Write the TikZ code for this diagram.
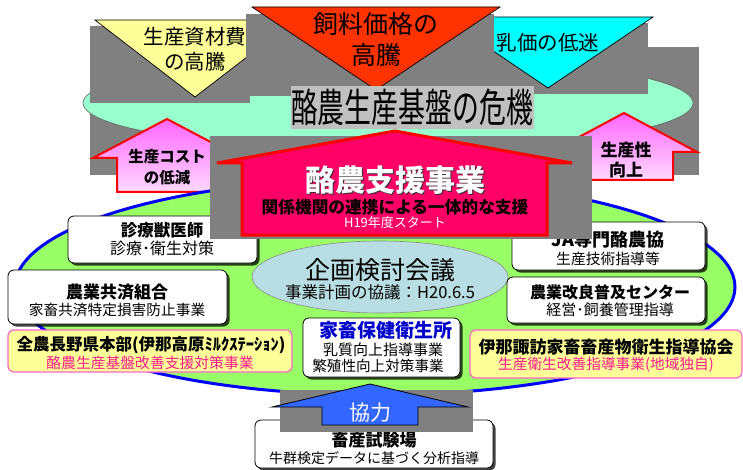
\documentclass[tikz,border=0pt]{standalone}
\usepackage{fontspec}
\setmainfont{Noto Sans CJK JP}
\usetikzlibrary{shapes.geometric,shadows}
\definecolor{mint}{HTML}{99FFCC}
\definecolor{grn}{HTML}{99FF66}
\definecolor{gbox}{HTML}{808080}
\definecolor{lgray}{HTML}{C0C0C0}
\definecolor{yel}{HTML}{FFFF99}
\definecolor{ored}{HTML}{FF3300}
\definecolor{cyn}{HTML}{00FFFF}
\definecolor{pnkA}{HTML}{FF66FF}
\definecolor{pnkB}{HTML}{FFD9FF}
\definecolor{rose}{HTML}{FF0066}
\definecolor{lblue}{HTML}{B8DDE3}
\definecolor{pinktxt}{HTML}{FF1A8C}
\definecolor{bluetxt}{HTML}{0000CC}
\definecolor{arrblue}{HTML}{3366FF}
\definecolor{ybord}{HTML}{FF66CC}
\newcommand\jfs[1]{\fontsize{#1}{#1}\selectfont}
\tikzset{
  gbx/.style={fill=gbox,draw=none},
  tri/.style={draw=black,line width=0.7pt,line join=miter},
  pinkarrow/.style={draw=red,line width=2pt,top color=pnkA,bottom color=pnkB,line join=miter},
  wbox/.style={rectangle,draw=black,line width=0.8pt,fill=white,rounded corners=6pt,
    drop shadow={shadow xshift=2.5pt,shadow yshift=-2.5pt,fill=black,opacity=0.75}},
  ybox/.style={rectangle,draw=ybord,line width=1.2pt,fill=yel,rounded corners=6pt},
  t/.style={inner sep=0pt,anchor=center},
}
\begin{document}
\begin{tikzpicture}[x=1pt,y=-1pt]
\useasboundingbox (0,0) rectangle (743,470);
% gray boxes behind the upper ellipse
\fill[gbx] (90,100) rectangle (215,175);
\fill[gbx] (560,47) rectangle (699,175);
% upper ellipse
\node[ellipse,draw=black!60,line width=0.6pt,fill=mint,minimum width=610pt,minimum height=94pt] (crisisE) at (388,103) {};
% cyan triangle
\fill[gbx] (438,23) rectangle (648,94);
\draw[tri,fill=cyn] (443,17) -- (653,17) -- (548,88) -- cycle;
\node[t] (milk) at (548,43) {\jfs{20.5}乳価の低迷};
% yellow triangle
\fill[gbx] (90,26) rectangle (250,103);
\draw[tri,fill=yel] (95,20) -- (295,20) -- (195,97) -- cycle;
\node[t] (mat1) at (195,37) {\jfs{20.5}生産資材費};
\node[t] (mat2) at (195,62) {\jfs{20.5}の高騰};
% red triangle
\fill[gbx] (246,14) rectangle (494,96);
\draw[tri,fill=ored] (252,7) -- (500,7) -- (376,90) -- cycle;
\node[t] (feed1) at (376,24) {\jfs{25}飼料価格の};
\node[t] (feed2) at (376,55) {\jfs{25}高騰};
% crisis label
\fill[lgray] (291,86) rectangle (534,129);
\node[t] (crisis) at (412,107.5) {\scalebox{0.96}[1.42]{\jfs{28}酪農生産基盤の危機}};
% pink arrows
\draw[pinkarrow] (167,119) -- (241,158) -- (217,158) -- (217,192) -- (117,192) -- (117,158) -- (93,158) -- cycle;
\node[t] (cost1) at (167,157) {\jfs{15.5}\bfseries 生産コスト};
\node[t] (cost2) at (167,178) {\jfs{15.5}\bfseries の低減};
\draw[pinkarrow] (624,113) -- (697,152) -- (673,152) -- (673,180) -- (575,180) -- (575,152) -- (551,152) -- cycle;
\node[t] (prod1) at (626,150) {\jfs{17}\bfseries 生産性};
\node[t] (prod2) at (626,170) {\jfs{17}\bfseries 向上};
% big green ellipse
\node[ellipse,draw=blue,line width=3pt,fill=grn,minimum width=720pt,minimum height=216pt] (bigE) at (375,287) {};
% planning ellipse
\node[ellipse,draw=black!45,line width=0.6pt,fill=lblue,minimum width=256pt,minimum height=72pt] (planE) at (380,277) {};
\node[t] (plan1) at (380,270) {\jfs{25}企画検討会議};
\node[t] (plan2) at (380,292) {\jfs{16.5}事業計画の協議：H20.6.5};
% boxes
\node[wbox,minimum width=189pt,minimum height=47pt] (vet) at (162.5,239.5) {};
\node[t] (vet1) at (162,230) {\jfs{16.5}\bfseries 診療獣医師};
\node[t] (vet2) at (162,248) {\jfs{16}診療･衛生対策};
\node[wbox,minimum width=193pt,minimum height=48pt] (ja) at (608.5,246) {};
\node[t] (ja1) at (608,240) {\jfs{18}\bfseries JA専門酪農協};
\node[t] (ja2) at (608,259) {\jfs{14.8}生産技術指導等};
\node[wbox,minimum width=219pt,minimum height=54pt] (kyosai) at (117.5,297) {};
\node[t] (kyo1) at (117,292) {\jfs{17}\bfseries 農業共済組合};
\node[t] (kyo2) at (117,310) {\jfs{14.7}家畜共済特定損害防止事業};
\node[wbox,minimum width=198pt,minimum height=46pt] (kairyo) at (606,300) {};
\node[t] (kai1) at (610,292) {\jfs{16}\bfseries 農業改良普及センター};
\node[t] (kai2) at (610,310) {\jfs{15}経営･飼養管理指導};
\node[ybox,minimum width=284pt,minimum height=42pt] (zennoh) at (150,351) {};
\node[t] (zen1) at (151,345) {\jfs{16.5}\bfseries 全農長野県本部(伊那高原ﾐﾙｸｽﾃｰｼｮﾝ)};
\node[t] (zen2) at (150,363) {\jfs{14.8}\color{pinktxt}酪農生産基盤改善支援対策事業};
\node[ybox,minimum width=272pt,minimum height=48pt] (ina) at (606,354) {};
\node[t] (ina1) at (606,347) {\jfs{17}\bfseries 伊那諏訪家畜畜産物衛生指導協会};
\node[t] (ina2) at (606,365) {\jfs{14.7}\color{pinktxt}生産衛生改善指導事業(地域独自)};
\node[wbox,minimum width=157pt,minimum height=59pt] (kaho) at (381.5,347.5) {};
\node[t] (kaho1) at (386,330) {\jfs{19}\bfseries\color{bluetxt}家畜保健衛生所};
\node[t] (kaho2) at (383,350) {\jfs{15}乳質向上指導事業};
\node[t] (kaho3) at (378,366) {\jfs{14.6}繁殖性向上対策事業};
\node[wbox,minimum width=238pt,minimum height=48pt] (shiken) at (374,444) {};
\node[t] (shi1) at (374,440) {\jfs{17}\bfseries 畜産試験場};
\node[t] (shi2) at (374,458) {\jfs{14}牛群検定データに基づく分析指導};
% central arrow
\fill[gbx] (210,136) rectangle (592,239);
\draw[draw=red,line width=3pt,fill=rose,line join=miter] (395,131) -- (572,163) -- (547,163) -- (547,235) -- (242,235) -- (242,163) -- (217,163) -- cycle;
\node[t] (shienS) at (396.5,181.5) {\jfs{30}\bfseries\color{black!80}酪農支援事業};
\node[t] (shien) at (395,180) {\jfs{30}\bfseries\color{white}酪農支援事業};
\node[t] (renkei) at (395,207) {\jfs{16.7}\bfseries 関係機関の連携による一体的な支援};
\node[t] (h19) at (395,223) {\jfs{13}\color{white}H19年度スタート};
% cooperation arrow
\fill[gbx] (280,390) rectangle (473,432);
\draw[draw=black,line width=0.8pt,fill=arrblue,line join=miter] (370,384) -- (468,407) -- (418,407) -- (418,425) -- (322,425) -- (322,407) -- (272,407) -- cycle;
\node[t] (kyoryoku) at (370,413) {\jfs{21}\color{white}協力};
\end{tikzpicture}
\end{document}
